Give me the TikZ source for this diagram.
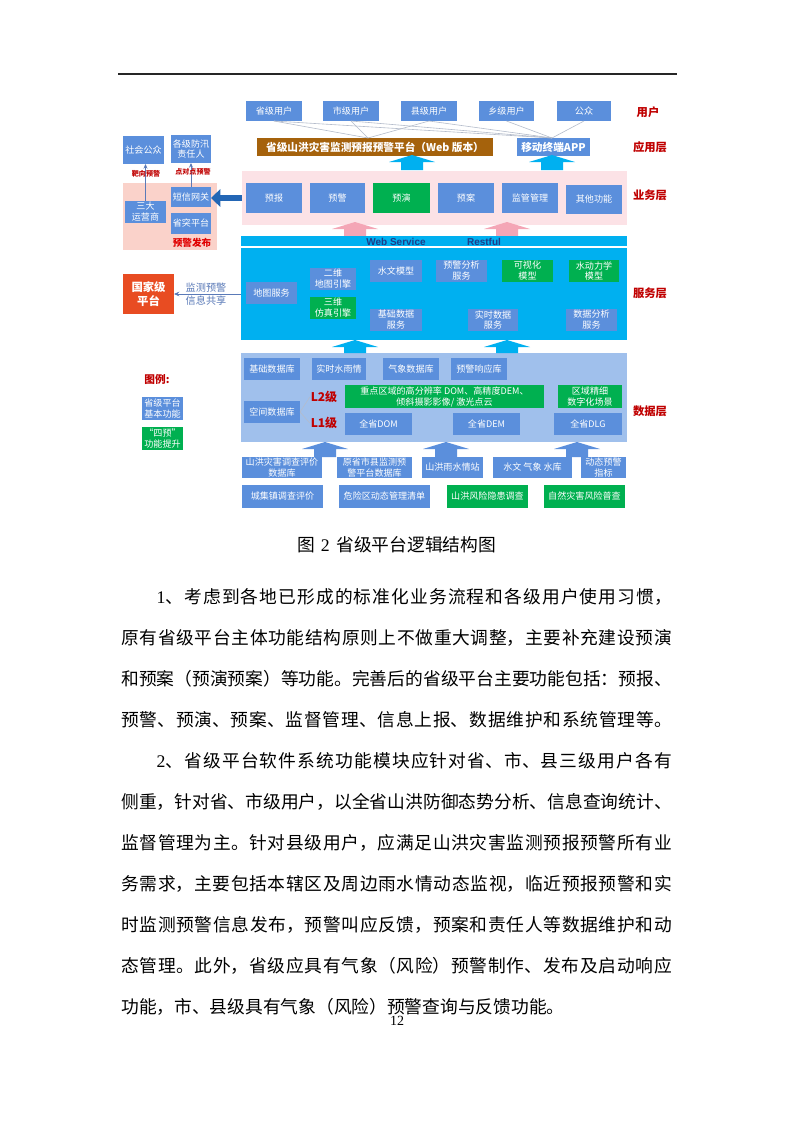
\documentclass[tikz,border=0pt]{standalone}
\usepackage{fontspec}
\setmainfont{Liberation Serif}
\newfontfamily\cjk{Noto Sans CJK SC}
\newfontfamily\lsans{Liberation Sans}
\usetikzlibrary{arrows.meta}
\XeTeXlinebreaklocale "zh"
\XeTeXlinebreakskip=0pt plus 3pt
\definecolor{bblue}{HTML}{5B8FDC}
\definecolor{bgreen}{HTML}{00B050}
\definecolor{pbrown}{HTML}{A5620C}
\definecolor{lpink}{HTML}{FCE2E6}
\definecolor{spink}{HTML}{FAD2CA}
\definecolor{cyanb}{HTML}{00B0F0}
\definecolor{datab}{HTML}{A0C0EC}
\definecolor{lred}{HTML}{C00000}
\definecolor{brred}{HTML}{E00000}
\definecolor{natred}{HTML}{E84C22}
\definecolor{arpink}{HTML}{F4A6B6}
\definecolor{navyt}{HTML}{1F3C88}
\definecolor{dblue}{HTML}{2366B5}
\definecolor{lgray}{HTML}{B4BCCB}
\definecolor{steel}{HTML}{5A7AB8}
\newcommand\bodyf{\cjk\fontsize{13.3}{16}\selectfont}
\newcommand\bx[7]{\node[#6, minimum width={(#4-#2)*0.75pt}, minimum height={(#5-#3)*0.75pt}] (#1) at ({(#2+#4)/2},{(#3+#5)/2}) {#7};}
\newcommand\uparr[4]{\fill[#4] ({#1-11},#2) -- ({#1-11},{#3+7}) -- ({#1-23},{#3+7}) -- (#1,#3) -- ({#1+23},{#3+7}) -- ({#1+11},{#3+7}) -- ({#1+11},#2) -- cycle;}
\newcommand\bline[3]{\node[anchor=base west, inner sep=0pt, text width=413pt, align=justify, font=\bodyf] (#1) at (121,#2) {\noindent\parfillskip=0pt #3\par};}
\tikzset{
  bbox/.style={rectangle, fill=bblue, text=white, inner sep=0pt, outer sep=0pt, align=center, font=\cjk\fontsize{6.8}{8.2}\selectfont},
  gbox/.style={bbox, fill=bgreen},
  bgbox/.style={rectangle, inner sep=0pt, outer sep=0pt},
  layerlbl/.style={text=lred, inner sep=0pt, font=\cjk\bfseries\fontsize{8.5}{10}\selectfont},
  thinln/.style={draw=lgray, line width=0.45pt},
  smallarr/.style={draw=steel, line width=0.6pt, -{Stealth[length=3.5pt,width=3pt]}},
}
\begin{document}
\begin{tikzpicture}[x=0.75pt,y=-0.75pt]
\useasboundingbox[fill=white] (0,0) rectangle (793,1122);
% header rule
\coordinate (hl) at (118,74);
\coordinate (hr) at (677,74);
\draw[black!85, line width=0.9pt] (hl) -- (hr);

% users
\bx{u1}{246}{101}{302}{121}{bbox}{省级用户}
\bx{u2}{323}{101}{379}{121}{bbox}{市级用户}
\bx{u3}{401}{101}{457}{121}{bbox}{县级用户}
\bx{u4}{479}{101}{534}{121}{bbox}{乡级用户}
\bx{u5}{557}{101}{611}{121}{bbox}{公众}
% application layer
\bx{plat}{257}{138}{493}{156}{bbox, fill=pbrown, font=\cjk\bfseries\fontsize{8}{9}\selectfont}{省级山洪灾害监测预报预警平台（Web 版本）}
\bx{app}{517}{138}{590}{156}{bbox, font=\cjk\bfseries\fontsize{8}{9}\selectfont}{移动终端APP}
\coordinate (pc) at (368,138);
\coordinate (ac) at (552,138);
\foreach \u in {u1,u2,u3}{\draw[thinln] (\u.south) -- (pc);}
\foreach \u in {u1,u2,u3,u4,u5}{\draw[thinln] (\u.south) -- (ac);}
\uparr{412}{170}{155}{cyanb}
\uparr{552}{170}{155}{cyanb}

% business layer
\bx{biz}{242}{171}{627}{225}{bgbox, fill=lpink}{}
\bx{b1}{246}{183}{302}{213}{bbox}{预报}
\bx{b2}{310}{183}{365}{213}{bbox}{预警}
\bx{b3}{373}{183}{430}{213}{gbox}{预演}
\bx{b4}{438}{183}{494}{213}{bbox}{预案}
\bx{b5}{502}{183}{558}{213}{bbox}{监管管理}
\bx{b6}{566}{185}{622}{214}{bbox}{其他功能}
\uparr{355}{236}{222}{arpink}
\uparr{507}{236}{222}{arpink}

% service layer
\bx{ws}{241}{236}{627}{246}{bgbox, fill=cyanb}{}
\node[text=navyt, inner sep=0pt, font=\lsans\bfseries\fontsize{7.5}{8}\selectfont] (wst) at (396,241.5) {Web Service};
\node[text=navyt, inner sep=0pt, font=\lsans\bfseries\fontsize{7.5}{8}\selectfont] (rst) at (484,241.5) {Restful};
\bx{svc}{241}{248}{627}{340}{bgbox, fill=cyanb}{}
\bx{s1}{246}{282}{297}{304}{bbox}{地图服务}
\bx{s2}{310}{268}{356}{290}{bbox}{二维\\地图引擎}
\bx{s3}{310}{297}{356}{319}{gbox}{三维\\仿真引擎}
\bx{s4}{370}{260}{422}{282}{bbox}{水文模型}
\bx{s5}{370}{309}{422}{331}{bbox}{基础数据\\服务}
\bx{s6}{436}{260}{487}{282}{bbox}{预警分析\\服务}
\bx{s7}{502}{260}{553}{282}{gbox}{可视化\\模型}
\bx{s8}{569}{260}{619}{282}{gbox}{水动力学\\模型}
\bx{s9}{468}{309}{518}{331}{bbox}{实时数据\\服务}
\bx{s10}{566}{309}{617}{331}{bbox}{数据分析\\服务}

% data layer
\bx{dat}{241}{353}{627}{442}{bgbox, fill=datab}{}
\uparr{355}{353}{340}{cyanb}
\uparr{507}{353}{340}{cyanb}
\bx{d1}{244}{358}{300}{380}{bbox}{基础数据库}
\bx{d2}{312}{358}{366}{380}{bbox}{实时水雨情}
\bx{d3}{383}{358}{439}{380}{bbox}{气象数据库}
\bx{d4}{451}{358}{507}{380}{bbox}{预警响应库}
\bx{d5}{244}{401}{300}{423}{bbox}{空间数据库}
\node[text=lred, inner sep=0.5pt, font=\cjk\bfseries\fontsize{9}{10}\selectfont] (l2) at (324,397) {L2级};
\node[text=lred, inner sep=0.5pt, font=\cjk\bfseries\fontsize{9}{10}\selectfont] (l1) at (324,423) {L1级};
\draw[thinln] (d5.east) -- (l2.west);
\draw[thinln] (d5.east) -- (l1.west);
\bx{d6}{345}{385}{544}{408}{gbox}{重点区域的高分辨率 DOM、高精度DEM、\\倾斜摄影影像/ 激光点云}
\bx{d7}{558}{385}{622}{408}{gbox}{区域精细\\数字化场景}
\bx{d8}{345}{413}{412}{435}{bbox}{全省DOM}
\bx{d9}{453}{413}{520}{435}{bbox}{全省DEM}
\bx{d10}{554}{413}{622}{435}{bbox}{全省DLG}

% sources
\uparr{325}{457}{442}{bblue}
\uparr{446}{457}{442}{bblue}
\uparr{577}{457}{442}{bblue}
\bx{e1}{242}{457}{322}{478}{bbox}{山洪灾害调查评价\\数据库}
\bx{e2}{337}{457}{412}{478}{bbox}{原省市县监测预\\警平台数据库}
\bx{e3}{422}{457}{483}{478}{bbox}{山洪雨水情站}
\bx{e4}{493}{457}{572}{478}{bbox}{水文\ 气象\ 水库}
\bx{e5}{581}{457}{626}{478}{bbox}{动态预警\\指标}
\bx{f1}{242}{485}{323}{508}{bbox}{城集镇调查评价}
\bx{f2}{339}{485}{430}{508}{bbox}{危险区动态管理清单}
\bx{f3}{447}{485}{528}{508}{gbox}{山洪风险隐患调查}
\bx{f4}{544}{485}{625}{508}{gbox}{自然灾害风险普查}

% layer labels
\node[layerlbl] (lu) at (648,112) {用户};
\node[layerlbl] (la) at (650,147) {应用层};
\node[layerlbl] (lb) at (650,195) {业务层};
\node[layerlbl] (ls) at (650,293) {服务层};
\node[layerlbl] (ld) at (650,411) {数据层};

% release (left)
\bx{rel}{123}{183}{217}{250}{bgbox, fill=spink}{}
\bx{l1}{123}{136}{164}{164}{bbox}{社会公众}
\bx{l2}{171}{135}{211}{163}{bbox}{各级防汛\\责任人}
\bx{l3}{125}{201}{166}{223}{bbox}{三大\\运营商}
\bx{l4}{171}{187}{211}{207}{bbox}{短信网关}
\bx{l5}{171}{213}{211}{234}{bbox}{省突平台}
\node[text=brred, inner sep=0pt, font=\cjk\bfseries\fontsize{7.2}{8}\selectfont] (relt) at (192,243) {预警发布};
\draw[smallarr] (l3.north) -- (l3.north |- l1.south);
\draw[smallarr] (l4.north) -- (l4.north |- l2.south);
\node[text=lred, inner sep=0pt, font=\cjk\bfseries\fontsize{5.3}{6}\selectfont] (bx1) at (146,174) {靶向预警};
\node[text=lred, inner sep=0pt, font=\cjk\bfseries\fontsize{5.3}{6}\selectfont] (bx2) at (193,172) {点对点预警};
\draw[dblue, line width=5pt, -{Triangle[width=13pt,length=7pt]}] (biz.west) -- (biz.west -| l4.east);

% national
\bx{nat}{123}{274}{174}{314}{bgbox, fill=natred, text=white, align=center, font=\cjk\bfseries\fontsize{8.5}{11}\selectfont}{国家级\\平台}
\draw[steel, line width=0.6pt, -{Stealth[length=4pt,width=3.5pt]}] (svc.west) -- (svc.west -| nat.east);
\node[text=steel, inner sep=0pt, align=center, font=\cjk\fontsize{7.6}{9.6}\selectfont] (sht) at (206,294) {监测预警\\信息共享};

% legend
\node[text=lred, inner sep=0pt, font=\cjk\bfseries\fontsize{8}{9}\selectfont] (lgt) at (157,379) {图例:};
\bx{g1}{142}{397}{183}{420}{bbox}{省级平台\\基本功能}
\bx{g2}{142}{427}{183}{450}{gbox}{“四预”\\功能提升}

% caption
\node[inner sep=0pt, anchor=base, font=\bodyf] (cap) at (397,551) {图\hspace{4pt}{\rmfamily 2}\hspace{5pt}省级平台逻辑结构图};

% body text
\bline{t1}{603}{\hspace*{26.6pt}{\rmfamily 1}、考虑到各地已形成的标准化业务流程和各级用户使用习惯，}
\bline{t2}{644}{原有省级平台主体功能结构原则上不做重大调整，主要补充建设预演}
\bline{t3}{685}{和预案（预演预案）等功能。完善后的省级平台主要功能包括：预报、}
\bline{t4}{726}{预警、预演、预案、监督管理、信息上报、数据维护和系统管理等。}
\bline{t5}{767}{\hspace*{26.6pt}{\rmfamily 2}、省级平台软件系统功能模块应针对省、市、县三级用户各有}
\bline{t6}{808}{侧重，针对省、市级用户，以全省山洪防御态势分析、信息查询统计、}
\bline{t7}{849}{监督管理为主。针对县级用户，应满足山洪灾害监测预报预警所有业}
\bline{t8}{890}{务需求，主要包括本辖区及周边雨水情动态监视，临近预报预警和实}
\bline{t9}{931}{时监测预警信息发布，预警叫应反馈，预案和责任人等数据维护和动}
\bline{t10}{972}{态管理。此外，省级应具有气象（风险）预警制作、发布及启动响应}
\node[anchor=base west, inner sep=0pt, font=\bodyf] (t11) at (121,1013) {功能，市、县级具有气象（风险）预警查询与反馈功能。};
% page number
\node[anchor=base, inner sep=0pt, font=\rmfamily\fontsize{10.5}{12}\selectfont] (pg) at (397,1025) {12};
\end{tikzpicture}
\end{document}
